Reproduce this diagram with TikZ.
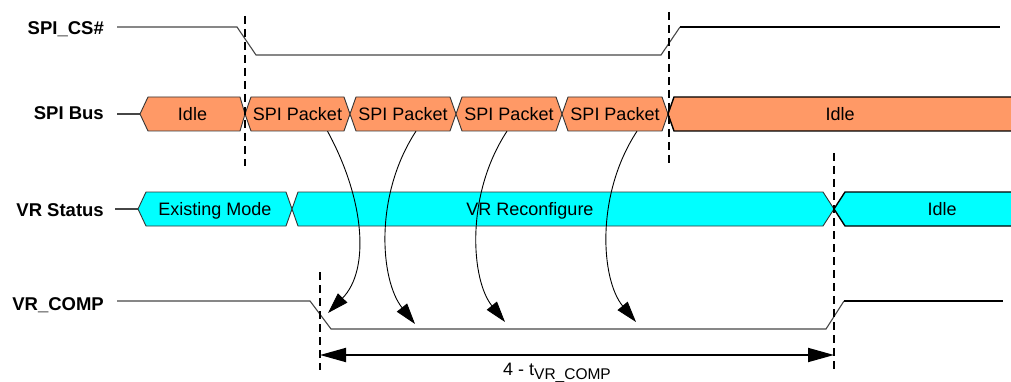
\documentclass[tikz,border=0pt]{standalone}
\usepackage{fontspec}
\setmainfont{Liberation Sans}
\usetikzlibrary{arrows.meta}
\definecolor{spiorange}{RGB}{255,153,102}
\definecolor{vrcyan}{RGB}{0,255,255}
\definecolor{edgegray}{RGB}{51,51,51}
\definecolor{siggray}{RGB}{70,70,70}
\begin{document}
\begin{tikzpicture}[x=1pt,y=-1pt,
  siglabel/.style={font=\fontsize{18.5}{20}\selectfont\bfseries, anchor=base east, inner sep=0pt},
  boxtext/.style={font=\fontsize{18}{20}\selectfont, inner sep=0pt, text height=23.5pt, text depth=10.5pt},
  spibox/.style={draw=edgegray, fill=spiorange, line width=0.9pt, line join=miter},
  vrbox/.style={draw=edgegray, fill=vrcyan, line width=0.9pt, line join=miter},
  openedge/.style={draw=black, line width=1.4pt},
  sigline/.style={draw=siggray, line width=1.1pt},
  sighigh/.style={draw=black, line width=1.6pt},
  guide/.style={draw=black, line width=1.6pt, dash pattern=on 8pt off 5pt},
  causal/.style={draw=black, line width=0.9pt, -{Triangle[length=21pt,width=13pt]}},
  dimline/.style={draw=black, line width=1.8pt, {Triangle[length=26pt,width=14pt]}-{Triangle[length=26pt,width=14pt]}},
]
\useasboundingbox (0,0) rectangle (1011,382);

% signal labels
\node[siglabel] (lcs)  at (104,35)  {SPI\_CS\#};
\node[siglabel] (lbus) at (104,120) {SPI Bus};
\node[siglabel] (lvr)  at (104,216) {VR Status};
\node[siglabel] (lcmp) at (104,310) {VR\_COMP};

% SPI_CS#
\draw[sigline] (117,27) -- (237,27) -- (256,55) -- (661,55) -- (680,27);
\draw[sighigh] (680,27) -- (1000,27);

% SPI Bus
\draw[sigline] (117,114) -- (140,114);
\path[spibox] (140,114) -- (148,97) -- (240,97) -- (245,114) -- (240,131) -- (148,131) -- cycle;
\path[spibox] (245,114) -- (251,97) -- (344,97) -- (350,114) -- (344,131) -- (251,131) -- cycle;
\path[spibox] (350,114) -- (356,97) -- (450,97) -- (456,114) -- (450,131) -- (356,131) -- cycle;
\path[spibox] (456,114) -- (462,97) -- (556,97) -- (562,114) -- (556,131) -- (462,131) -- cycle;
\path[spibox] (562,114) -- (568,97) -- (662,97) -- (668,114) -- (662,131) -- (568,131) -- cycle;
\fill[spiorange] (668,114) -- (674,97) -- (1011,97) -- (1011,131) -- (674,131) -- cycle;
\draw[openedge] (1011,97) -- (674,97) -- (668,114) -- (674,131) -- (1011,131);
\node[boxtext] (idle1) at (192.5,114) {Idle};
\node[boxtext] (p1) at (297.5,114) {SPI Packet};
\node[boxtext] (p2) at (403,114) {SPI Packet};
\node[boxtext] (p3) at (509,114) {SPI Packet};
\node[boxtext] (p4) at (615,114) {SPI Packet};
\node[boxtext] (idle2) at (840,114) {Idle};

% VR Status
\draw[sigline] (115,209) -- (138,209);
\path[vrbox] (138,209) -- (146,192) -- (286,192) -- (292,209) -- (286,226) -- (146,226) -- cycle;
\path[vrbox] (292,209) -- (298,192) -- (823,192) -- (834,209) -- (823,226) -- (298,226) -- cycle;
\fill[vrcyan] (834,209) -- (845,192) -- (1011,192) -- (1011,226) -- (845,226) -- cycle;
\draw[openedge] (1011,192) -- (845,192) -- (834,209) -- (845,226) -- (1011,226);
\node[boxtext] (existing) at (215,209) {Existing Mode};
\node[boxtext] (reconf) at (530,209) {VR Reconfigure};
\node[boxtext] (idle3) at (942,209) {Idle};

% VR_COMP
\draw[sigline] (117,301) -- (310,301) -- (331,329) -- (826,329) -- (844,301);
\draw[sighigh] (844,301) -- (1003,301);

% guides
\draw[guide] (245,16) -- (245,166);
\draw[guide] (669,12) -- (669,163);
\draw[guide] (320,272) -- (320,370);
\draw[guide] (834,153) -- (834,370);

% causal arrows
\coordinate (t1) at (328,313);
\coordinate (t2) at (415,324);
\coordinate (t3) at (505,322);
\coordinate (t4) at (636,322);
\draw[causal] ([xshift=30pt]p1.south) .. controls (365,200) and (370,270) .. (t1);
\draw[causal] ([xshift=13pt]p2.south) .. controls (374,195) and (380,280) .. (t2);
\draw[causal] ([xshift=-2pt]p3.south) .. controls (465,195) and (471,280) .. (t3);
\draw[causal] ([xshift=22pt]p4.south) .. controls (595,195) and (601,280) .. (t4);

% dimension
\coordinate (dl) at (320,355);
\coordinate (dr) at (834,355);
\draw[dimline] (dl) -- (dr);
\node[font=\fontsize{18}{20}\selectfont, anchor=base, inner sep=0pt] (dimlabel) at (557,375)
  {4 - t\raisebox{-4pt}{\fontsize{15.5}{16}\selectfont VR\_COMP}};
\end{tikzpicture}
\end{document}
